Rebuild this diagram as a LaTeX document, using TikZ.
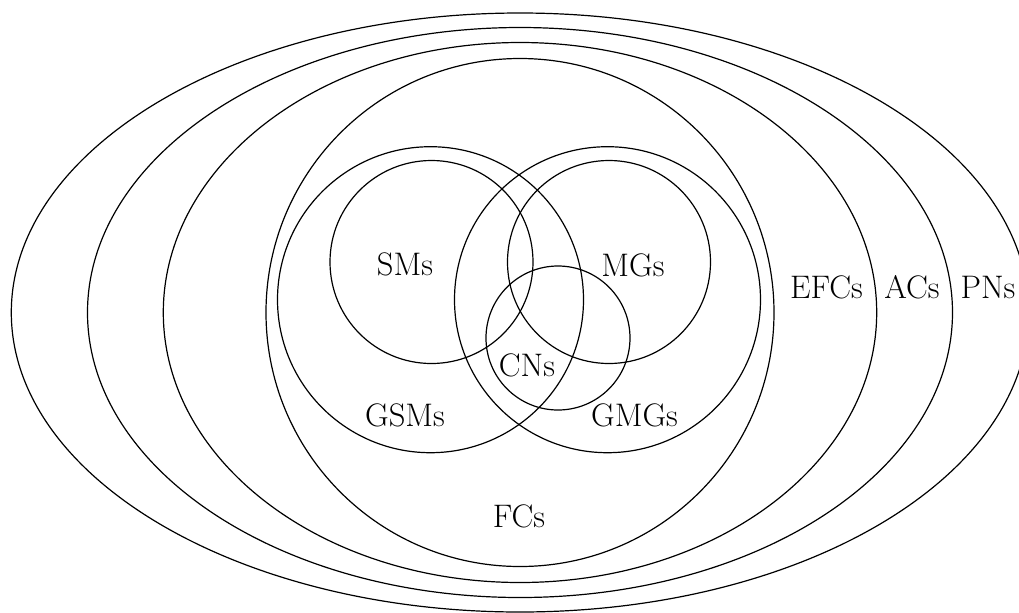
\documentclass[tikz,border=0pt]{standalone}
\begin{document}
\begin{tikzpicture}[x=0.5pt,y=-0.5pt,
  set/.style={line width=0.6pt,draw=black},
  lbl/.style={inner sep=0pt,font=\fontsize{16.3}{19}\selectfont}]
\useasboundingbox (0,0) rectangle (1019,612);
\coordinate (o) at (520,312.5);
% outer ellipses
\draw[set] (o) ellipse [x radius=508.7, y radius=299.5];
\draw[set] (o) ellipse [x radius=432.5, y radius=285];
\draw[set] (o) ellipse [x radius=356.7, y radius=270];
\draw[set] (o) circle [radius=254];
% inner circles
\coordinate (gsm) at (430.5,299.7);
\coordinate (gmg) at (607.5,299.7);
\coordinate (sm) at (431.5,262);
\coordinate (mg) at (609,262);
\coordinate (cn) at (558,338);
\draw[set] (gsm) circle [radius=153];
\draw[set] (gmg) circle [radius=153];
\draw[set] (sm) circle [radius=101.5];
\draw[set] (mg) circle [radius=101.5];
\draw[set] (cn) circle [radius=72];
% labels
\node[lbl] (lSMs) at (405,264) {SMs};
\node[lbl] (lMGs) at (633,265) {MGs};
\node[lbl] (lCNs) at (527,365) {CNs};
\node[lbl] (lGSMs) at (405,415.5) {GSMs};
\node[lbl] (lGMGs) at (634.5,415) {GMGs};
\node[lbl] (lFCs) at (519,516) {FCs};
\node[lbl] (lEFCs) at (826.5,287) {EFCs};
\node[lbl] (lACs) at (912,287) {ACs};
\node[lbl] (lPNs) at (988,287) {PNs};
\end{tikzpicture}
\end{document}
